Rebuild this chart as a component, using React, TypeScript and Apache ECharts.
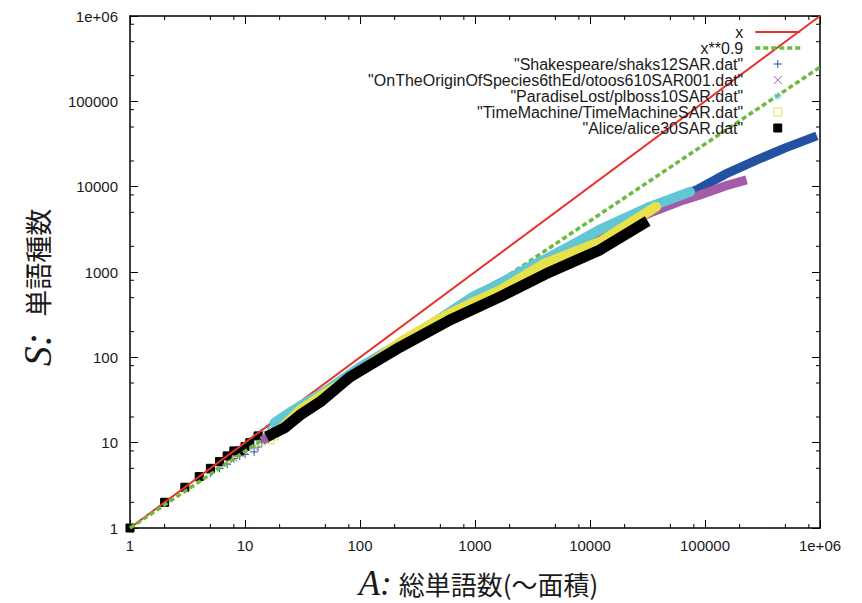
import { useEffect, useRef } from 'react';
import * as echarts from 'echarts';

const TEXT = '#1a1a1a';
const SANS = '"Liberation Sans", Arial, Helvetica, sans-serif';
const SERIF = '"Liberation Serif", "Times New Roman", serif';
const CJK = '"Noto Sans CJK JP", "Noto Sans CJK SC", sans-serif';

const legendNames = [
  'x',
  'x**0.9',
  '"Shakespeare/shaks12SAR.dat"',
  '"OnTheOriginOfSpecies6thEd/otoos610SAR001.dat"',
  '"ParadiseLost/plboss10SAR.dat"',
  '"TimeMachine/TimeMachineSAR.dat"',
  '"Alice/alice30SAR.dat"',
];
const axisTickLabels = ['1', '10', '100', '1000', '10000', '100000', '1e+06'];
const minorTickValues = [2, 5, 8, 20, 50, 80, 200, 500, 800, 2000, 5000, 8000, 20000, 50000, 80000, 200000, 500000, 800000];
const axisMin = 1;
const axisMax = 1000000;

// function lines (end points)
const lineX = [[1, 1], [1000000, 1000000]];
const linePow = [[1, 1], [1000000, 251000]];

// Shakespeare (+)
const shakesMarks = [[1, 1], [2, 2], [3, 3], [4, 3.8], [5, 4.4], [6, 5], [7, 5.6], [8, 6.5], [9, 7], [10, 7.3], [12, 7.8], [13, 8.9], [14, 10.2], [16, 11], [18, 12.5]];
const shakesBand = [[18, 12.5], [20, 18], [50, 40], [100, 75], [300, 180], [1000, 520], [3000, 1130], [10000, 2650], [30000, 5300], [85000, 9200], [150000, 14000], [283000, 20600], [500000, 28500], [940000, 39400]];

// Origin of Species (x)
const originMarks = [[1, 1], [2, 2], [3, 3], [4, 4], [5, 4.8], [6, 5.5], [7, 6], [8, 6.6], [10, 8], [12, 9], [14, 10.5]];
const originBand = [[14, 10.5], [30, 21], [100, 70], [1000, 480], [10000, 2300], [25000, 4100], [33000, 4900], [60000, 6700], [90500, 8000], [150000, 10200], [230000, 12000]];

// Paradise Lost (*)
const paradiseMarks = [[1, 1], [2, 2], [3, 3], [4, 4], [5, 5], [6, 6], [7, 7], [8, 8], [10, 9.5], [11, 10.5], [12, 11.5], [13, 12.5], [14, 13.5], [16, 15]];
const paradiseBand = [[18, 17], [25, 23], [50, 40], [100, 77], [300, 183], [1000, 530], [1650, 720], [3000, 1150], [4490, 1500], [10000, 2700], [12200, 3150], [33000, 5800], [74000, 8700]];

// Time Machine (empty square)
const timeMarks = [[1, 1], [2, 2], [3, 3], [4, 4], [5, 5], [6, 6], [7, 6.5], [8, 7.5], [10, 9], [12, 10], [14, 10.5], [16.5, 10.8], [18, 12]];
const timeBand = [[20, 14], [30, 24], [50, 38], [100, 68], [223, 150], [500, 285], [1000, 450], [1650, 610], [4000, 1250], [12200, 2250], [37500, 5800]];

// Alice (filled square)
const aliceMarks = [[1, 1], [2, 2], [3, 3], [4, 4], [5, 5], [6, 6], [7, 7], [8, 8], [9, 8], [10, 9], [11, 10], [13, 12]];
const aliceBand = [[17, 12.5], [22, 14.9], [30, 21], [45, 30], [82, 59], [223, 132], [606, 274], [1650, 511], [4490, 1002], [12200, 1815], [28900, 3660]];

const RED = '#e8322a';
const GREEN = '#6cba3f';
const BLUE = '#2452a3';
const PURPLE = '#a35ca7';
const CYAN = '#63c6d4';
const YELLOW = '#e8e24a';
const BLACK = '#000000';

const PLUS = 'path://M0,5H10M5,0V10';
const CROSS = 'path://M0,0L10,10M10,0L0,10';
const STAR = 'path://M0,5H10M5,0V10M1.5,1.5L8.5,8.5M8.5,1.5L1.5,8.5';
const SQUARE = 'path://M0,0H10V10H0Z';

const tickData = [
  ...minorTickValues.map((v) => [v, axisMin, 0]),
  ...minorTickValues.map((v) => [axisMin, v, 1]),
];

function makeAxis(position: string, showLabels: boolean, extra: any = {}) {
  return {
    type: 'log',
    logBase: 10,
    min: axisMin,
    max: axisMax,
    splitNumber: 6,
    position,
    axisLine: { show: true, onZero: false, lineStyle: { color: '#000', width: 1.5 } },
    axisTick: { show: true, inside: true, length: 8, lineStyle: { color: '#000', width: 1 } },
    axisLabel: {
      show: showLabels,
      fontFamily: SANS,
      fontSize: 15,
      color: TEXT,
      margin: position === 'bottom' ? 10 : 12,
      formatter: (value: number) => axisTickLabels[Math.round(Math.log10(value))],
    },
    splitLine: { show: false },
    minorTick: { show: false },
    ...extra,
  };
}

function markSeries(name: string, data: number[][], symbol: string, color: string, size: number, filled: boolean) {
  return {
    name,
    type: 'scatter',
    data,
    symbol,
    symbolSize: size,
    silent: true,
    itemStyle: {
      color: filled ? color : 'rgba(0,0,0,0)',
      borderColor: color,
      borderWidth: 1,
      opacity: 1,
    },
  };
}

function bandSeries(name: string, data: number[][], color: string, width: number, cap: string) {
  return {
    name,
    type: 'line',
    data,
    symbol: 'none',
    showSymbol: false,
    silent: true,
    itemStyle: { color },
    lineStyle: { color, width, cap, join: 'round' },
  };
}

const option: any = {
  animation: false,
  backgroundColor: '#ffffff',
  grid: { left: 130, right: 42, top: 16, bottom: 75, containLabel: false, outerBoundsMode: 'none' },
  legend: {
    orient: 'vertical',
    right: 60,
    top: 24,
    align: 'right',
    itemWidth: 45,
    itemHeight: 8,
    itemGap: 0,
    padding: 0,
    selectedMode: false,
    itemStyle: { borderWidth: 1 },
    lineStyle: { width: 'inherit' },
    textStyle: { fontFamily: SANS, fontSize: 16, color: TEXT, lineHeight: 16, padding: [0, 7, 0, 0] },
    data: [
      { name: legendNames[0], itemStyle: { opacity: 0 } },
      { name: legendNames[1], itemStyle: { opacity: 0 } },
      { name: legendNames[2] },
      { name: legendNames[3] },
      { name: legendNames[4] },
      { name: legendNames[5] },
      { name: legendNames[6] },
    ],
  },
  xAxis: [
    makeAxis('bottom', true, {
      name: '{a|A:}{c|総単語数(〜面積)}',
      nameLocation: 'middle',
      nameGap: 40,
      nameTextStyle: {
        rich: {
          a: { fontFamily: SERIF, fontStyle: 'italic', fontSize: 35, lineHeight: 30, color: TEXT, padding: [0, 0, 0, 7] },
          c: { fontFamily: CJK, fontSize: 26, lineHeight: 30, color: TEXT, padding: [0, 0, 0, 7] },
        },
      },
    }),
    makeAxis('top', false),
  ],
  yAxis: [
    makeAxis('left', true, {
      name: '{a|S:}{c|単語種数}',
      nameLocation: 'middle',
      nameGap: 75,
      nameRotate: 90,
      nameTextStyle: {
        rich: {
          a: { fontFamily: SERIF, fontStyle: 'italic', fontSize: 40, lineHeight: 34, color: TEXT },
          c: { fontFamily: CJK, fontSize: 27, lineHeight: 34, color: TEXT, padding: [0, 31, 0, 16] },
        },
      },
    }),
    makeAxis('right', false),
  ],
  series: [
    {
      name: legendNames[0],
      type: 'line',
      data: lineX,
      symbol: 'none',
      showSymbol: false,
      silent: true,
      itemStyle: { color: RED },
      lineStyle: { color: RED, width: 2 },
    },
    {
      name: legendNames[1],
      type: 'line',
      data: linePow,
      symbol: 'none',
      showSymbol: false,
      silent: true,
      itemStyle: { color: GREEN },
      lineStyle: { color: GREEN, width: 3.5, type: [5, 3] },
    },
    markSeries(legendNames[2], shakesMarks, PLUS, BLUE, 8, true),
    bandSeries(legendNames[2], shakesBand, BLUE, 9, 'butt'),
    markSeries(legendNames[3], originMarks, CROSS, PURPLE, 7, true),
    bandSeries(legendNames[3], originBand, PURPLE, 9, 'butt'),
    markSeries(legendNames[4], paradiseMarks, STAR, CYAN, 8, true),
    bandSeries(legendNames[4], paradiseBand, CYAN, 10, 'round'),
    markSeries(legendNames[5], timeMarks, SQUARE, YELLOW, 8, false),
    bandSeries(legendNames[5], timeBand, YELLOW, 10, 'round'),
    markSeries(legendNames[6], aliceMarks, SQUARE, BLACK, 8, true),
    bandSeries(legendNames[6], aliceBand, BLACK, 11, 'square'),
    {
      type: 'custom',
      silent: true,
      z: 10,
      xAxisIndex: 0,
      yAxisIndex: 0,
      clip: false,
      data: tickData,
      encode: { x: 0, y: 1 },
      renderItem: (_params: any, api: any) => {
        const kind = api.value(2);
        const style = { stroke: '#000', lineWidth: 1 };
        if (kind === 0) {
          const v = api.value(0);
          const b = api.coord([v, axisMin]);
          const t = api.coord([v, axisMax]);
          return {
            type: 'group',
            children: [
              { type: 'line', shape: { x1: b[0], y1: b[1], x2: b[0], y2: b[1] - 4 }, style },
              { type: 'line', shape: { x1: t[0], y1: t[1], x2: t[0], y2: t[1] + 4 }, style },
            ],
          };
        }
        const v = api.value(1);
        const l = api.coord([axisMin, v]);
        const r = api.coord([axisMax, v]);
        return {
          type: 'group',
          children: [
            { type: 'line', shape: { x1: l[0], y1: l[1], x2: l[0] + 4, y2: l[1] }, style },
            { type: 'line', shape: { x1: r[0], y1: r[1], x2: r[0] - 4, y2: r[1] }, style },
          ],
        };
      },
    },
  ],
};

export default function App() {
  const ref = useRef<HTMLDivElement>(null);
  useEffect(() => {
    document.body.style.margin = '0';
    const chart = echarts.init(ref.current as HTMLDivElement, null, { renderer: 'svg' });
    chart.setOption(option);
    return () => chart.dispose();
  }, []);
  return <div ref={ref} style={{ width: 862, height: 603 }} />;
}
